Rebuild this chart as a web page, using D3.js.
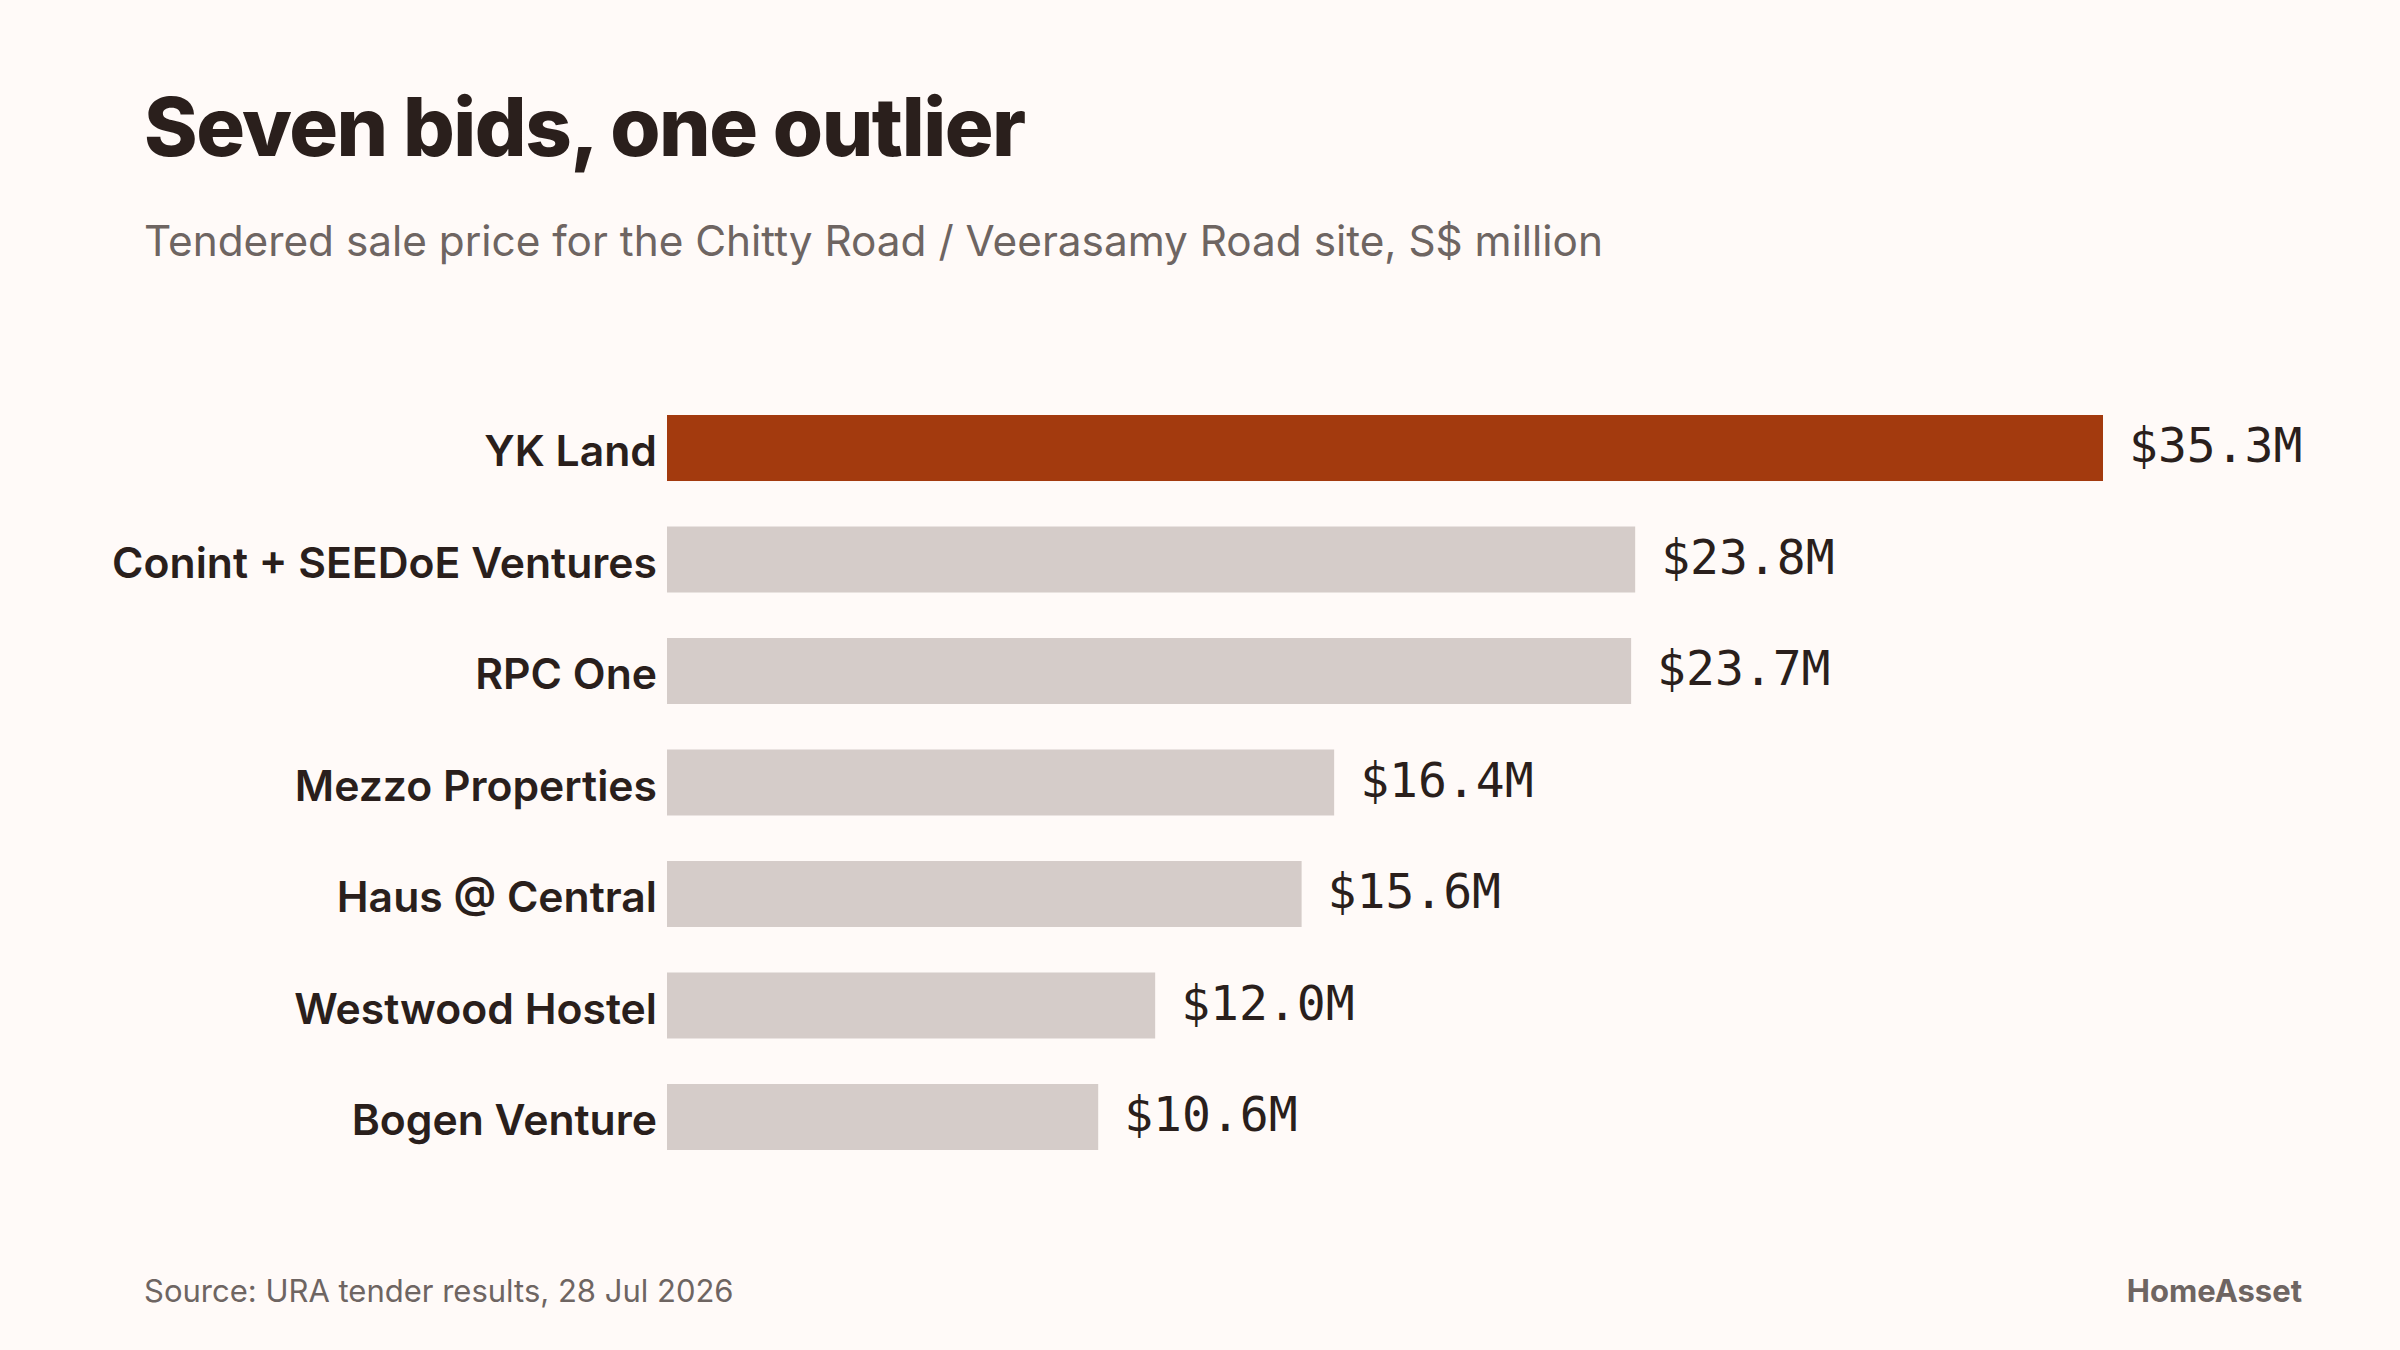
<!DOCTYPE html>
<html>
<head>
<meta charset="utf-8">
<script src="https://cdn.jsdelivr.net/npm/d3@7"></script>
<style>
  html, body { margin: 0; padding: 0; background: #fffaf8; }
  svg { display: block; }
</style>
</head>
<body>
<svg id="chart"></svg>
<script>
// Tender bids for the Chitty Road / Veerasamy Road site

const bidders = ["YK Land", "Conint + SEEDoE Ventures", "RPC One", "Mezzo Properties",
                 "Haus @ Central", "Westwood Hostel", "Bogen Venture"];
const prices = [35.3, 23.8, 23.7, 16.4, 15.6, 12.0, 10.6];
const highlight = "YK Land";

const width = 2400;
const height = 1350;

const svg = d3.select("#chart")
    .attr("width", width)
    .attr("height", height);

svg.append("rect")
    .attr("width", width).attr("height", height)
    .attr("fill", "#fffaf8");

const data = bidders.map((b, i) => ({ name: b, value: prices[i] }));

const x = d3.scaleLinear()
    .domain([0, 35.3])
    .range([667, 2103]);

const y = d3.scaleBand()
    .domain(bidders)
    .range([415, 1150])
    .paddingInner(0.408)
    .paddingOuter(0);

// title + subtitle
svg.append("text")
    .attr("x", 144).attr("y", 156)
    .attr("font-family", "Inter, sans-serif")
    .attr("font-weight", 800)
    .attr("font-size", 81.3)
    .attr("letter-spacing", -1.5)
    .attr("fill", "#2a1f1c")
    .text("Seven bids, one outlier");

svg.append("text")
    .attr("x", 144).attr("y", 256)
    .attr("font-family", "Inter, sans-serif")
    .attr("font-size", 42.3)
    .attr("fill", "#6e6562")
    .text("Tendered sale price for the Chitty Road / Veerasamy Road site, S$ million");

// bars
svg.selectAll("rect.bar")
    .data(data)
    .enter().append("rect")
    .attr("class", "bar")
    .attr("x", x(0))
    .attr("y", d => y(d.name))
    .attr("width", d => x(d.value) - x(0))
    .attr("height", y.bandwidth())
    .attr("fill", d => d.name === highlight ? "#a33a0e" : "#d5ccc9");

// category labels
svg.selectAll("text.cat")
    .data(data)
    .enter().append("text")
    .attr("class", "cat")
    .attr("x", x(0) - 10)
    .attr("y", d => y(d.name) + y.bandwidth() / 2)
    .attr("dy", "0.43em")
    .attr("text-anchor", "end")
    .attr("font-family", "Inter, sans-serif")
    .attr("font-weight", 600)
    .attr("font-size", 42.7)
    .attr("fill", "#2a1f1c")
    .text(d => d.name);

// value labels
svg.selectAll("text.val")
    .data(data)
    .enter().append("text")
    .attr("class", "val")
    .attr("x", d => x(d.value) + 26)
    .attr("y", d => y(d.name) + y.bandwidth() / 2)
    .attr("dy", "0.30em")
    .attr("font-family", "'DejaVu Sans Mono', monospace")
    .attr("font-size", 48)
    .attr("fill", "#2a1f1c")
    .text(d => "$" + d.value.toFixed(1) + "M");

// footer
svg.append("text")
    .attr("x", 144).attr("y", 1302)
    .attr("font-family", "Inter, sans-serif")
    .attr("font-size", 31)
    .attr("fill", "#6e6562")
    .text("Source: URA tender results, 28 Jul 2026");

svg.append("text")
    .attr("x", 2302).attr("y", 1302)
    .attr("text-anchor", "end")
    .attr("font-family", "Inter, sans-serif")
    .attr("font-weight", 700)
    .attr("font-size", 31)
    .attr("fill", "#6e6562")
    .text("HomeAsset");
</script>
</body>
</html>
